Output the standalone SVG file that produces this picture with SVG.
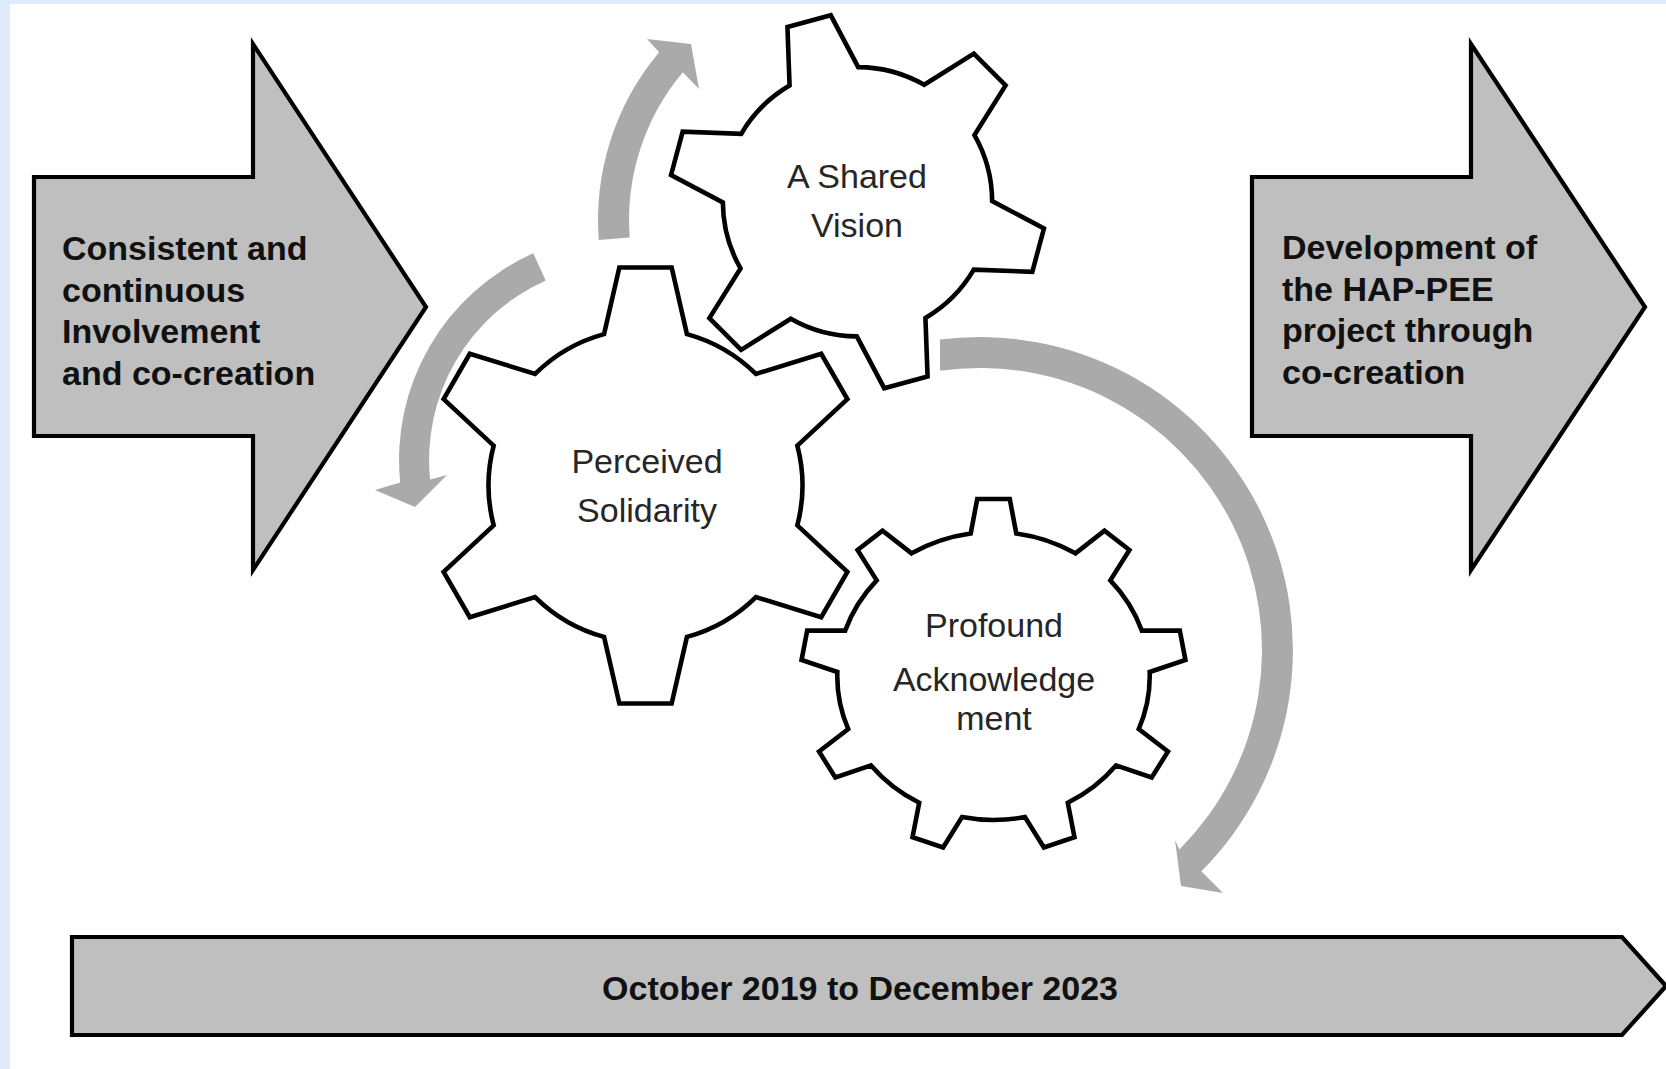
<svg xmlns="http://www.w3.org/2000/svg" width="1666" height="1069" viewBox="0 0 1666 1069">
<defs>
<style>
.big{fill:#bfbfbf;stroke:#000;stroke-width:4.2;stroke-linejoin:miter}
.gear{fill:#fff;stroke:#000;stroke-width:4.6;stroke-linejoin:miter}
.flow{fill:#aaaaaa}
.btxt{font-family:"Liberation Sans",Arial,sans-serif;font-weight:bold;font-size:34px;fill:#111}
.gtxt{font-family:"Liberation Sans",Arial,sans-serif;font-size:34px;fill:#262626;text-anchor:middle}
</style>
<path id="gear6" vector-effect="non-scaling-stroke" d="M -19,-69.45 L -12,-100 L 12,-100 L 19,-69.45 A 72 72 0 0 1 50.646,-51.18 L 80.603,-60.392 L 92.603,-39.608 L 69.646,-18.27 A 72 72 0 0 1 69.646,18.27 L 92.603,39.608 L 80.603,60.392 L 50.646,51.18 A 72 72 0 0 1 19,69.45 L 12,100 L -12,100 L -19,69.45 A 72 72 0 0 1 -50.646,51.18 L -80.603,60.392 L -92.603,39.608 L -69.646,18.27 A 72 72 0 0 1 -69.646,-18.27 L -92.603,-39.608 L -80.603,-60.392 L -50.646,-51.18 A 72 72 0 0 1 -19,-69.45 Z"/>
</defs>
<rect x="0" y="0" width="1666" height="1069" fill="#ffffff"/>
<rect x="0" y="0" width="1666" height="4" fill="#dfeafb"/>
<rect x="0" y="0" width="10" height="1069" fill="#dfeafb"/>

<g id="input-arrow">
<polygon class="big" points="34,177 253,177 253,44 426,307 253,570 253,436 34,436"/>
<text class="btxt" x="62" y="260">Consistent and</text>
<text class="btxt" x="62" y="301.5">continuous</text>
<text class="btxt" x="62" y="343">Involvement</text>
<text class="btxt" x="62" y="384.5">and co-creation</text>
</g>

<g id="output-arrow">
<polygon class="big" points="1252,177 1471,177 1471,44 1645,307 1471,570 1471,436 1252,436"/>
<text class="btxt" x="1282" y="259">Development of</text>
<text class="btxt" x="1282" y="300.5">the HAP-PEE</text>
<text class="btxt" x="1282" y="342">project through</text>
<text class="btxt" x="1282" y="383.5">co-creation</text>
</g>

<g id="timeline">
<polygon class="big" points="72,937 1622,937 1666,986 1622,1035 72,1035"/>
<text class="btxt" x="860" y="1000" text-anchor="middle">October 2019 to December 2023</text>
</g>

<g id="connectors">
<path class="flow" d="M 598.8,240 A 261 261 0 0 1 659.1,52.2 L 647,39 L 691,44 L 699,89 L 682.8,72.2 A 230 230 0 0 0 629.7,237.6 Z"/>
<path class="flow" d="M 533.3,253.3 A 226 226 0 0 0 400.2,482.6 L 375,490 L 415,507 L 447,475 L 430.1,479.5 A 196 196 0 0 1 545.7,280.6 Z"/>
<path class="flow" d="M 940,339.6 A 313 313 0 0 1 1201.3,871.3 L 1223,893 L 1181,886 L 1175,840 L 1179.4,849.4 A 282 282 0 0 0 940,370.85 Z"/>
</g>

<g id="gear-shared-vision">
<use href="#gear6" class="gear" transform="translate(857.5,201.75) rotate(-15) scale(1.87)"/>
<text class="gtxt" x="857" y="188">A Shared</text>
<text class="gtxt" x="857" y="237">Vision</text>
</g>

<g id="gear-perceived-solidarity">
<use href="#gear6" class="gear" transform="translate(645.5,485.5) scale(2.18)"/>
<text class="gtxt" x="647" y="473">Perceived</text>
<text class="gtxt" x="647" y="522">Solidarity</text>
</g>

<g id="gear-profound-acknowledgement">
<path class="gear" vector-effect="non-scaling-stroke" transform="translate(993.5,676) scale(1.085,1)" d="M -21,-142.46 L -15,-177 L 15,-177 L 21,-142.46 A 144 144 0 0 1 75.485,-122.63 L 102.283,-145.231 L 125.265,-125.947 L 107.659,-95.631 A 144 144 0 0 1 136.649,-45.419 L 171.706,-45.508 L 176.916,-15.964 L 143.943,-4.057 A 144 144 0 0 1 133.875,53.043 L 160.787,75.51 L 145.787,101.49 L 112.875,89.417 A 144 144 0 0 1 68.457,126.686 L 74.633,161.195 L 46.443,171.455 L 28.991,141.05 A 144 144 0 0 1 -28.991,141.05 L -46.443,171.455 L -74.633,161.195 L -68.457,126.686 A 144 144 0 0 1 -112.875,89.417 L -145.787,101.49 L -160.787,75.51 L -133.875,53.043 A 144 144 0 0 1 -143.943,-4.057 L -176.916,-15.964 L -171.706,-45.508 L -136.649,-45.419 A 144 144 0 0 1 -107.659,-95.631 L -125.265,-125.947 L -102.283,-145.231 L -75.485,-122.63 A 144 144 0 0 1 -21,-142.46 Z"/>
<text class="gtxt" x="994" y="637">Profound</text>
<text class="gtxt" x="994" y="691">Acknowledge</text>
<text class="gtxt" x="994" y="730">ment</text>
</g>
</svg>
